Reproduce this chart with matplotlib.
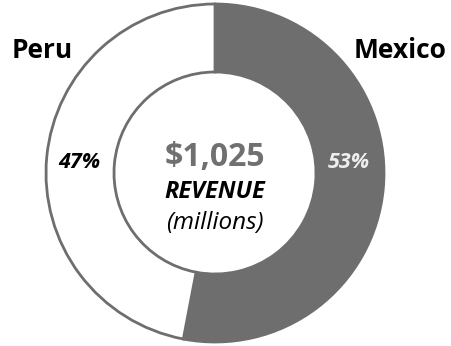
import matplotlib.pyplot as plt

# revenue split by country
countries = ["Mexico", "Peru"]
shares = [53, 47]
total_revenue = 1025

fill_colors = ["#6e6e6e", "white"]
ring_gray = "#6e6e6e"

fig = plt.figure(figsize=(4.51, 3.46), dpi=100)
ax = fig.add_axes([0, 0, 1, 1])

cx, cy = 215, 173
r_out, ring_w = 169, 68

ax.pie(shares, colors=fill_colors, startangle=90, counterclock=False,
       center=(cx, cy), radius=r_out, frame=True,
       wedgeprops=dict(width=ring_w, edgecolor=ring_gray, linewidth=2))
ax.set_xlim(0, 451)
ax.set_ylim(0, 346)
ax.set_aspect("equal")
ax.axis("off")

font = "Open Sans"
r_mid = r_out - ring_w / 2

# country names over the ring
ax.text(12, 296, countries[1], fontsize=19, fontweight="bold", family=font,
        ha="left", va="center")
ax.text(447, 296, countries[0], fontsize=19, fontweight="bold", family=font,
        ha="right", va="center")

# percentages inside the ring
ax.text(cx + r_mid - 1, cy + 11, "%d%%" % shares[0], fontsize=15.5, fontweight="bold",
        fontstyle="italic", family=font, color="#eeeeee", ha="center", va="center")
ax.text(cx - r_mid - 1, cy + 11, "%d%%" % shares[1], fontsize=15.5, fontweight="bold",
        fontstyle="italic", family=font, color="black", ha="center", va="center")

# total in the hole
ax.text(cx, cy + 16, "${:,}".format(total_revenue), fontsize=23, fontweight="bold",
        family=font, color="#707070", ha="center", va="center")
ax.text(cx, cy - 19, "REVENUE", fontsize=17, fontweight="bold", fontstyle="italic",
        family=font, ha="center", va="center")
ax.text(cx, cy - 50, "(millions)", fontsize=17.5, fontstyle="italic",
        family=font, ha="center", va="center")

fig.savefig("out.png", dpi=100)
